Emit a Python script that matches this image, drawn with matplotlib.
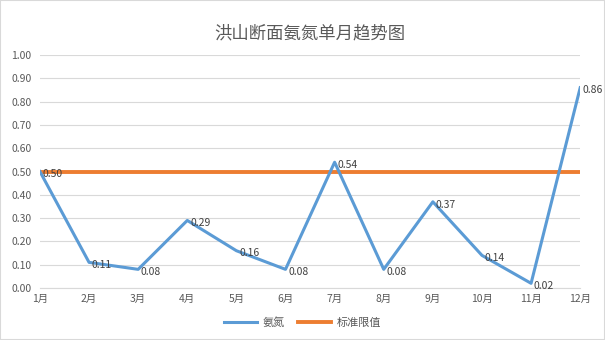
import matplotlib
matplotlib.use("Agg")
import matplotlib.pyplot as plt
import numpy as np

plt.rcParams['font.family'] = ['Noto Sans CJK SC', 'DejaVu Sans']

months = ["1月", "2月", "3月", "4月", "5月", "6月", "7月", "8月", "9月", "10月", "11月", "12月"]
ammonia = [0.50, 0.11, 0.08, 0.29, 0.16, 0.08, 0.54, 0.08, 0.37, 0.14, 0.02, 0.86]
limit = [0.5] * 12

blue = "#5B9BD5"
orange = "#ED7D31"
grey_txt = "#595959"

fig = plt.figure(figsize=(6.05, 3.4), dpi=100)
ax = fig.add_axes([0.066, 0.153, 0.893, 0.685])

x = np.arange(len(months))
ax.plot(x, limit, color=orange, lw=2.8, label="标准限值", zorder=2)
ax.plot(x, ammonia, color=blue, lw=2.2, label="氨氮", zorder=3)

for xi, v in zip(x, ammonia):
    ax.annotate(f"{v:.2f}", (xi, v), xytext=(2, -2), textcoords="offset points",
                fontsize=7.5, color="#404040", va="center", ha="left", zorder=4)

ax.set_xlim(0, 11)
ax.set_ylim(0, 1.0)
ax.set_yticks(np.arange(0, 1.01, 0.1))
ax.set_yticklabels([f"{t:.2f}" for t in np.arange(0, 1.01, 0.1)])
ax.set_xticks(x)
ax.set_xticklabels(months)
ax.tick_params(axis="both", length=0, labelsize=7.5, colors=grey_txt)
ax.tick_params(axis="y", pad=6)
ax.tick_params(axis="x", pad=4)
ax.grid(axis="y", color="#D9D9D9", lw=0.8)
ax.set_axisbelow(True)
for s in ax.spines.values():
    s.set_visible(False)
ax.spines["bottom"].set_visible(True)
ax.spines["bottom"].set_color("#D9D9D9")

ax.set_title("洪山断面氨氮单月趋势图", fontsize=12.5, color=grey_txt, pad=12)

h, l = ax.get_legend_handles_labels()
fig.legend(h[::-1], l[::-1], loc="center", bbox_to_anchor=(0.5, 0.05), ncol=2,
           frameon=False, fontsize=8, handlelength=3, columnspacing=1.2,
           handletextpad=0.5, labelcolor=grey_txt)

fig.patches.append(plt.Rectangle((0, 0), 1, 1, transform=fig.transFigure,
                                 fill=False, edgecolor="#D9D9D9", lw=1.5))

fig.savefig("out.png", dpi=100)
